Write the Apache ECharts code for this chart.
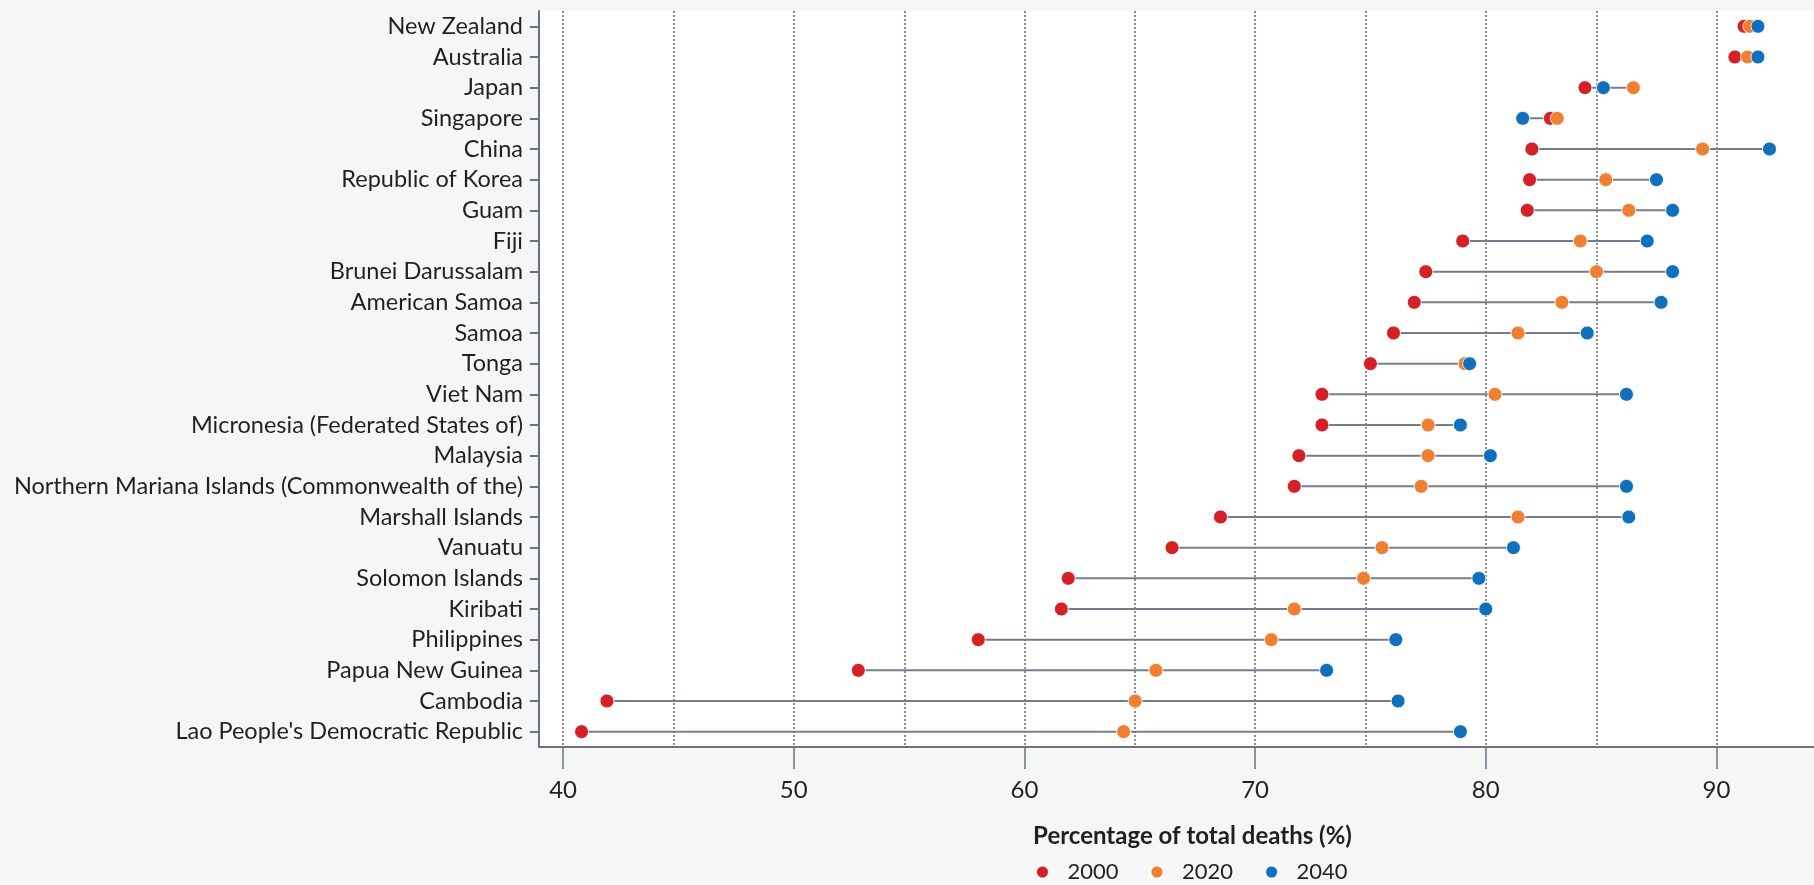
<!DOCTYPE html>
<html>
<head>
<meta charset="utf-8">
<script src="https://cdn.jsdelivr.net/npm/echarts@6/dist/echarts.min.js"></script>
<style>
html,body{margin:0;padding:0;background:#f5f7f6;}
#chart{width:1814px;height:885px;}
</style>
</head>
<body>
<div id="chart"></div>
<script>
const categories = ['New Zealand','Australia','Japan','Singapore','China','Republic of Korea','Guam','Fiji','Brunei Darussalam','American Samoa','Samoa','Tonga','Viet Nam','Micronesia (Federated States of)','Malaysia','Northern Mariana Islands (Commonwealth of the)','Marshall Islands','Vanuatu','Solomon Islands','Kiribati','Philippines','Papua New Guinea','Cambodia',"Lao People's Democratic Republic"];
const values2000 = [91.2, 90.8, 84.3, 82.8, 82.0, 81.9, 81.8, 79.0, 77.4, 76.9, 76.0, 75.0, 72.9, 72.9, 71.9, 71.7, 68.5, 66.4, 61.9, 61.6, 58.0, 52.8, 41.9, 40.8];
const values2020 = [91.45, 91.35, 86.4, 83.1, 89.4, 85.2, 86.2, 84.1, 84.8, 83.3, 81.4, 79.1, 80.4, 77.5, 77.5, 77.2, 81.4, 75.5, 74.7, 71.7, 70.7, 65.7, 64.8, 64.3];
const values2040 = [91.8, 91.8, 85.1, 81.6, 92.3, 87.4, 88.1, 87.0, 88.1, 87.6, 84.4, 79.3, 86.1, 78.9, 80.2, 86.1, 86.2, 81.2, 79.7, 80.0, 76.1, 73.1, 76.2, 78.9];
const seriesNames = ['2000','2020','2040'];
const xTickValues = [40, 50, 60, 70, 80, 90];
const gridValues = [40, 44.8, 50, 54.8, 60, 64.8, 70, 74.8, 80, 84.8, 90];

const FONT = 'Lato';
const colors = ['#d42127', '#ef7f31', '#1170bb'];
const axisColor = '#6b7183';
const textColor = '#231f20';

const chart = echarts.init(document.getElementById('chart'), null, {renderer: 'canvas'});

const connectorData = categories.map((c, i) => {
  const vs = [values2000[i], values2020[i], values2040[i]];
  return [Math.min(...vs), Math.max(...vs), i];
});

const allValues = [values2000, values2020, values2040];

const scatterSeries = seriesNames.map((n, k) => ({
  type: 'scatter', name: n, z: 3 + k,
  symbolSize: 14,
  itemStyle: {color: colors[k], borderColor: 'rgba(255,255,255,0.85)', borderWidth: 1, opacity: 1},
  data: allValues[k].map((v, i) => [v, i])
}));
scatterSeries[0].markLine = {
  silent: true, symbol: 'none', label: {show: false}, z: 1,
  lineStyle: {color: axisColor, type: [2, 2], width: 1.6},
  data: gridValues.map(v => ({xAxis: v}))
};

const option = {
  backgroundColor: '#f5f7f6',
  animation: false,
  textStyle: {fontFamily: FONT},
  grid: {left: 539, right: 0, top: 11, bottom: 138, show: true, backgroundColor: '#ffffff', borderWidth: 0},
  xAxis: {
    type: 'value', min: 38.955, max: 94.23,
    axisLine: {show: true, lineStyle: {color: axisColor, width: 2}},
    axisTick: {show: true, customValues: xTickValues, length: 22, lineStyle: {color: axisColor, width: 1.5}},
    axisLabel: {customValues: xTickValues, margin: 31, fontSize: 24, color: textColor, fontFamily: FONT},
    splitLine: {show: false},
    name: 'Percentage of total deaths (%)', nameLocation: 'middle', nameGap: 77,
    nameTextStyle: {fontWeight: 'bold', fontSize: 24, color: textColor, fontFamily: FONT, padding: [0, 0, 0, 32]}
  },
  yAxis: {
    type: 'category', data: categories, inverse: true,
    axisLine: {show: true, lineStyle: {color: axisColor, width: 2}},
    axisTick: {show: true, alignWithLabel: true, interval: 0, length: 9, lineStyle: {color: axisColor, width: 2}},
    axisLabel: {interval: 0, fontSize: 23.5, margin: 16, color: textColor, fontFamily: FONT},
    splitLine: {show: false}
  },
  legend: {
    left: 1030, top: 856, itemWidth: 40, itemHeight: 13, itemGap: 31,
    icon: 'circle',
    textStyle: {fontSize: 22, color: textColor, fontFamily: FONT},
    data: seriesNames
  },
  series: [
    {
      type: 'custom', name: 'connector', silent: true, z: 2,
      data: connectorData,
      encode: {x: [0, 1], y: 2},
      renderItem: function (params, api) {
        const p1 = api.coord([api.value(0), api.value(2)]);
        const p2 = api.coord([api.value(1), api.value(2)]);
        return {type: 'line', shape: {x1: p1[0], y1: p1[1], x2: p2[0], y2: p2[1]}, style: {stroke: '#767c8d', lineWidth: 2}};
      }
    }
  ].concat(scatterSeries)
};
chart.setOption(option);
</script>
</body>
</html>
